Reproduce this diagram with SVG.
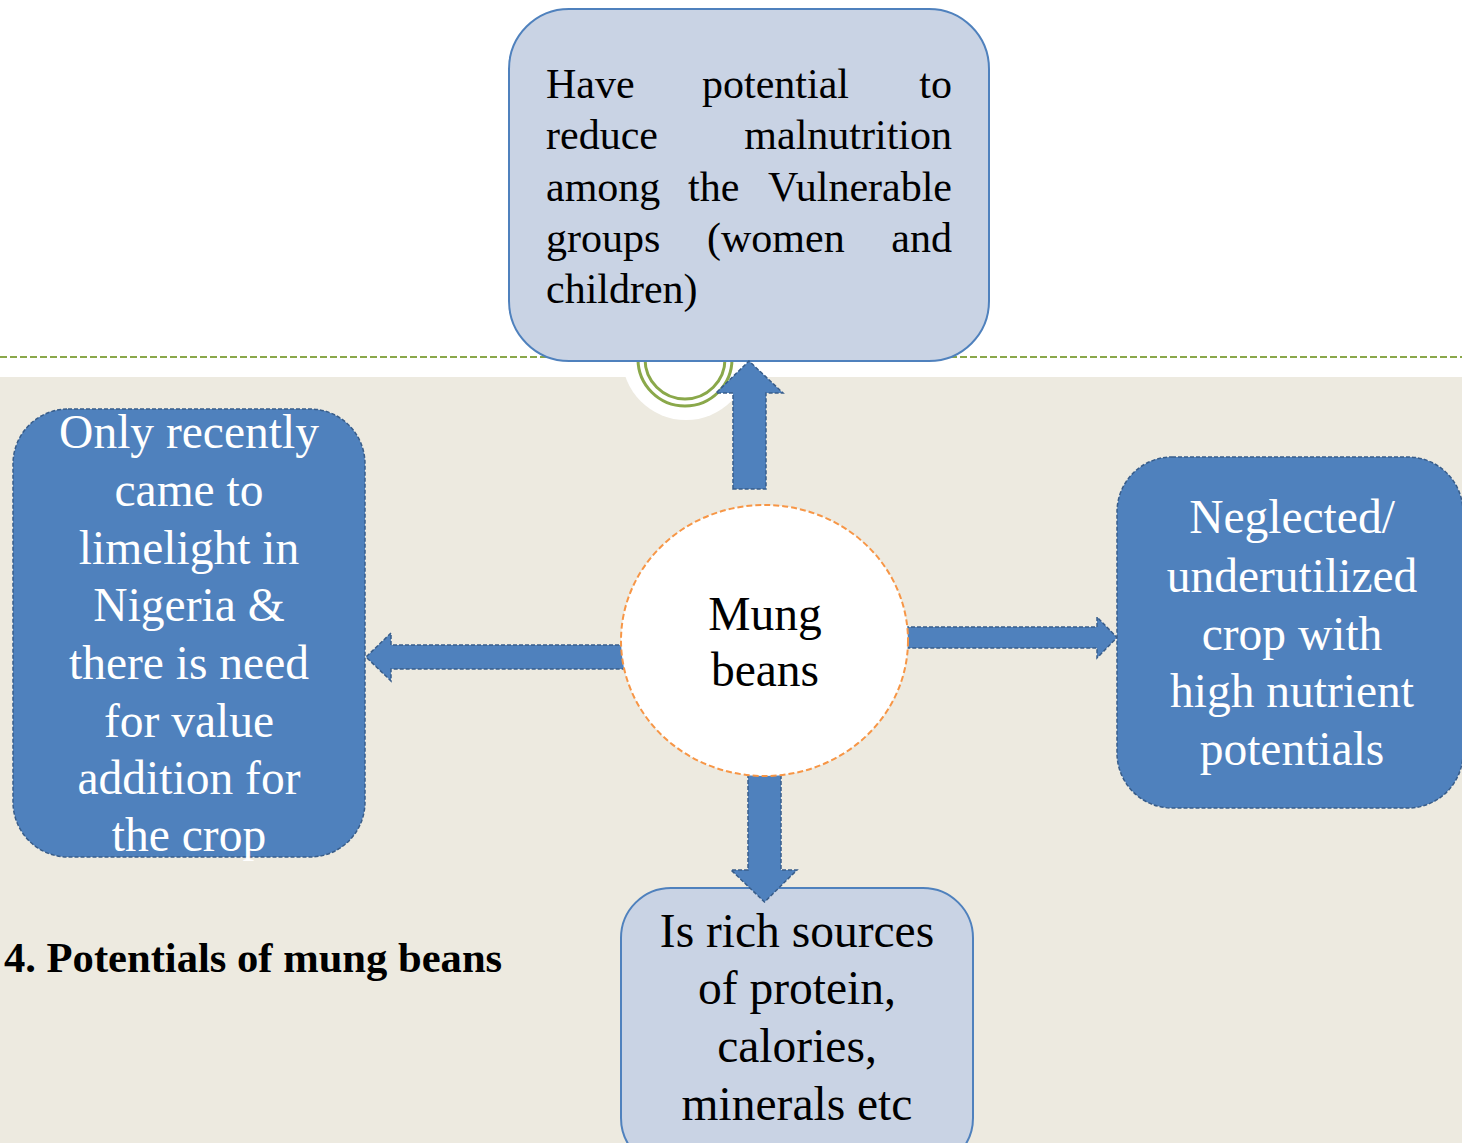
<svg xmlns="http://www.w3.org/2000/svg" width="1462" height="1143" viewBox="0 0 1462 1143">
<style>
.serif{font-family:"Liberation Serif","Times New Roman",serif;}
.dark{fill:#4F81BD;stroke:#385D8A;stroke-width:1.5;stroke-dasharray:4 2;}
.light{fill:#C9D3E4;stroke:#4F81BD;stroke-width:2;}
.wt{fill:#FFFFFF;font-size:47.5px;text-anchor:middle;}
.bt{fill:#000000;font-size:47.5px;text-anchor:middle;}
.tt{fill:#000000;font-size:42px;}
</style>
<rect x="0" y="0" width="1462" height="1143" fill="#FFFFFF"/>
<rect x="0" y="377" width="1462" height="766" fill="#EDEAE0"/>
<line x1="0" y1="357" x2="1462" y2="357" stroke="#8AA84A" stroke-width="2.2" stroke-dasharray="7 3"/>
<g id="decor">
<circle cx="686" cy="356" r="64" fill="#FFFFFF"/>
<circle cx="685" cy="359" r="47" fill="none" stroke="#8AA84A" stroke-width="3"/>
<circle cx="685" cy="359" r="40" fill="none" stroke="#8AA84A" stroke-width="3"/>
</g>
<g id="node-top">
<rect class="light" x="509" y="9" width="480" height="352" rx="60" ry="60"/>
<text class="serif tt" y="98"><tspan x="546">Have</tspan><tspan x="702">potential</tspan><tspan x="952" text-anchor="end">to</tspan></text>
<text class="serif tt" y="149"><tspan x="546">reduce</tspan><tspan x="952" text-anchor="end">malnutrition</tspan></text>
<text class="serif tt" y="201"><tspan x="546">among</tspan><tspan x="688">the</tspan><tspan x="952" text-anchor="end">Vulnerable</tspan></text>
<text class="serif tt" y="252"><tspan x="546">groups</tspan><tspan x="707">(women</tspan><tspan x="952" text-anchor="end">and</tspan></text>
<text class="serif tt" y="303" x="546">children)</text>
</g>
<g id="node-bottom">
<rect class="light" x="621" y="888" width="352" height="280" rx="50" ry="50"/>
<text class="serif bt" x="797" y="947">Is rich sources</text>
<text class="serif bt" x="797" y="1004">of protein,</text>
<text class="serif bt" x="797" y="1062">calories,</text>
<text class="serif bt" x="797" y="1120">minerals etc</text>
</g>
<g id="connectors">
<path class="dark" d="M733,489 L733,393 L716,393 L749,361 L783,393 L766,393 L766,489 Z"/>
<path class="dark" d="M905,627 L1097,627 L1097,617 L1117,637.5 L1097,658 L1097,648 L905,648 Z"/>
<path class="dark" d="M625,645 L391,645 L391,633 L366,657 L391,681 L391,669 L625,669 Z"/>
<path class="dark" d="M748,772 L781,772 L781,870 L797,870 L764.5,902 L731,870 L748,870 Z"/>
</g>
<g id="node-center">
<ellipse cx="764.5" cy="640.5" rx="143.5" ry="135.5" fill="#FFFFFF" stroke="#F79646" stroke-width="2" stroke-dasharray="6 3"/>
<text class="serif bt" x="765" y="630">Mung</text>
<text class="serif bt" x="765" y="686">beans</text>
</g>
<g id="node-left">
<rect class="dark" x="13" y="409" width="352" height="448" rx="55" ry="55"/>
<text class="serif wt" x="189" y="448">Only recently</text>
<text class="serif wt" x="189" y="506">came to</text>
<text class="serif wt" x="189" y="564">limelight in</text>
<text class="serif wt" x="189" y="621">Nigeria &amp;</text>
<text class="serif wt" x="189" y="679">there is need</text>
<text class="serif wt" x="189" y="737">for value</text>
<text class="serif wt" x="189" y="794">addition for</text>
<text class="serif wt" x="189" y="851">the crop</text>
</g>
<g id="node-right">
<rect class="dark" x="1117" y="457" width="346" height="351" rx="55" ry="55"/>
<text class="serif wt" x="1292" y="533">Neglected/</text>
<text class="serif wt" x="1292" y="592">underutilized</text>
<text class="serif wt" x="1292" y="650">crop with</text>
<text class="serif wt" x="1292" y="707">high nutrient</text>
<text class="serif wt" x="1292" y="765">potentials</text>
</g>
<text class="serif" x="4" y="972" font-size="42.6" font-weight="bold" fill="#000000">4. Potentials of mung beans</text>
</svg>
